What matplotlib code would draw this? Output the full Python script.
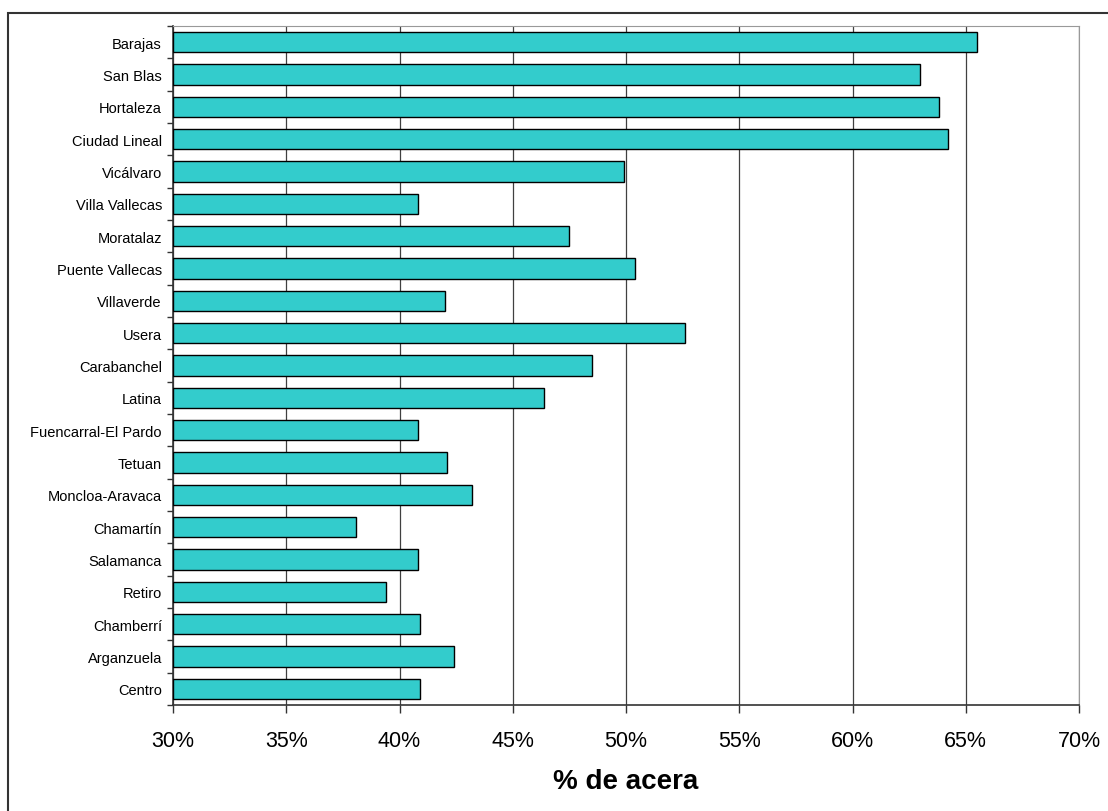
import matplotlib.pyplot as plt
from matplotlib.patches import Rectangle
from matplotlib.ticker import MultipleLocator, FuncFormatter

plt.rcParams['font.family'] = ['Liberation Sans', 'DejaVu Sans']

# districts from bottom to top
distritos = ['Centro', 'Arganzuela', 'Chamberrí', 'Retiro', 'Salamanca', 'Chamartín',
             'Moncloa-Aravaca', 'Tetuan', 'Fuencarral-El Pardo', 'Latina', 'Carabanchel',
             'Usera', 'Villaverde', 'Puente Vallecas', 'Moratalaz', 'Villa Vallecas',
             'Vicálvaro', 'Ciudad Lineal', 'Hortaleza', 'San Blas', 'Barajas']
acera = [40.9, 42.4, 40.9, 39.4, 40.8, 38.1,
         43.2, 42.1, 40.8, 46.4, 48.5,
         52.6, 42.0, 50.4, 47.5, 40.8,
         49.9, 64.2, 63.8, 63.0, 65.5]
x_ticks = [30, 35, 40, 45, 50, 55, 60, 65, 70]

W, H = 1108, 812
fig = plt.figure(figsize=(W / 100, H / 100), dpi=100)
# outer chart border (cut at right and bottom like the original)
fig.patches.append(Rectangle((8 / W, -0.1), 1.2, 1 - 14 / H + 0.1, transform=fig.transFigure,
                             fill=False, edgecolor='#333333', linewidth=1.5))

ax = fig.add_axes([173 / W, 1 - 706 / H, (1079 - 173) / W, (706 - 27) / H])
y = list(range(len(distritos)))
ax.barh(y, [v - 30 for v in acera], left=30, height=0.62, color='#33CCCC',
        edgecolor='black', linewidth=1.0, zorder=3)

ax.set_xlim(30, 70)
ax.set_ylim(-0.5, len(distritos) - 0.5)
ax.set_xticks(x_ticks)
ax.xaxis.set_major_formatter(FuncFormatter(lambda v, p: '%d%%' % v))
ax.set_yticks(y)
ax.set_yticklabels(distritos, fontsize=10.5)
ax.yaxis.set_minor_locator(MultipleLocator(1))
ax.set_yticks([i - 0.5 for i in range(len(distritos) + 1)], minor=True)
ax.tick_params(axis='y', which='major', length=0, pad=8)
ax.tick_params(axis='y', which='minor', length=4, width=1, color='#333333')
ax.tick_params(axis='x', length=6, width=1, color='#333333', labelsize=15.5, pad=12)
ax.grid(axis='x', color='#404040', linewidth=0.9, zorder=0)

for s in ['top', 'right']:
    ax.spines[s].set_color('#999999')
for s in ['bottom', 'left']:
    ax.spines[s].set_color('#333333')
    ax.spines[s].set_linewidth(1.2)

ax.set_xlabel('% de acera', fontsize=20, fontweight='bold', labelpad=12)

fig.savefig('out.png', dpi=100)
